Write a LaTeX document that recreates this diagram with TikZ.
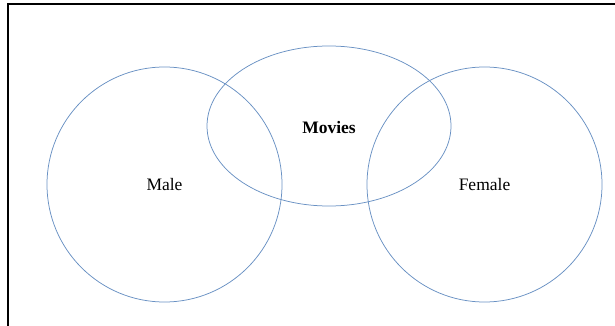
\documentclass[tikz,border=0pt]{standalone}
\usepackage{fontspec}
\setmainfont{Liberation Serif}
\usetikzlibrary{shapes.geometric}
\definecolor{setblue}{RGB}{105,145,195}

\begin{document}
\begin{tikzpicture}[x=1pt,y=-1pt,
  setcircle/.style={draw=setblue, line width=0.75pt, circle, inner sep=0pt, minimum size=235pt,
    font=\fontsize{17.5}{20}\selectfont},
  setellipse/.style={draw=setblue, line width=0.75pt, ellipse, inner sep=0pt, minimum width=244pt,
    minimum height=160pt, font=\fontsize{17.5}{20}\selectfont\bfseries}]
  \useasboundingbox (0,0) rectangle (615,326);
  \draw[line width=2pt](8,326)--(8,4)--(615,4);
  \node[setcircle] (male) at (164.5, 184.5) {Male};
  \node[setcircle] (female) at (484.5, 184.5) {Female};
  \node[setellipse] (movies) at (329, 126) {};
  \node[font=\fontsize{17.5}{20}\selectfont\bfseries] (movieslabel) at (329, 128) {Movies};
\end{tikzpicture}
\end{document}
